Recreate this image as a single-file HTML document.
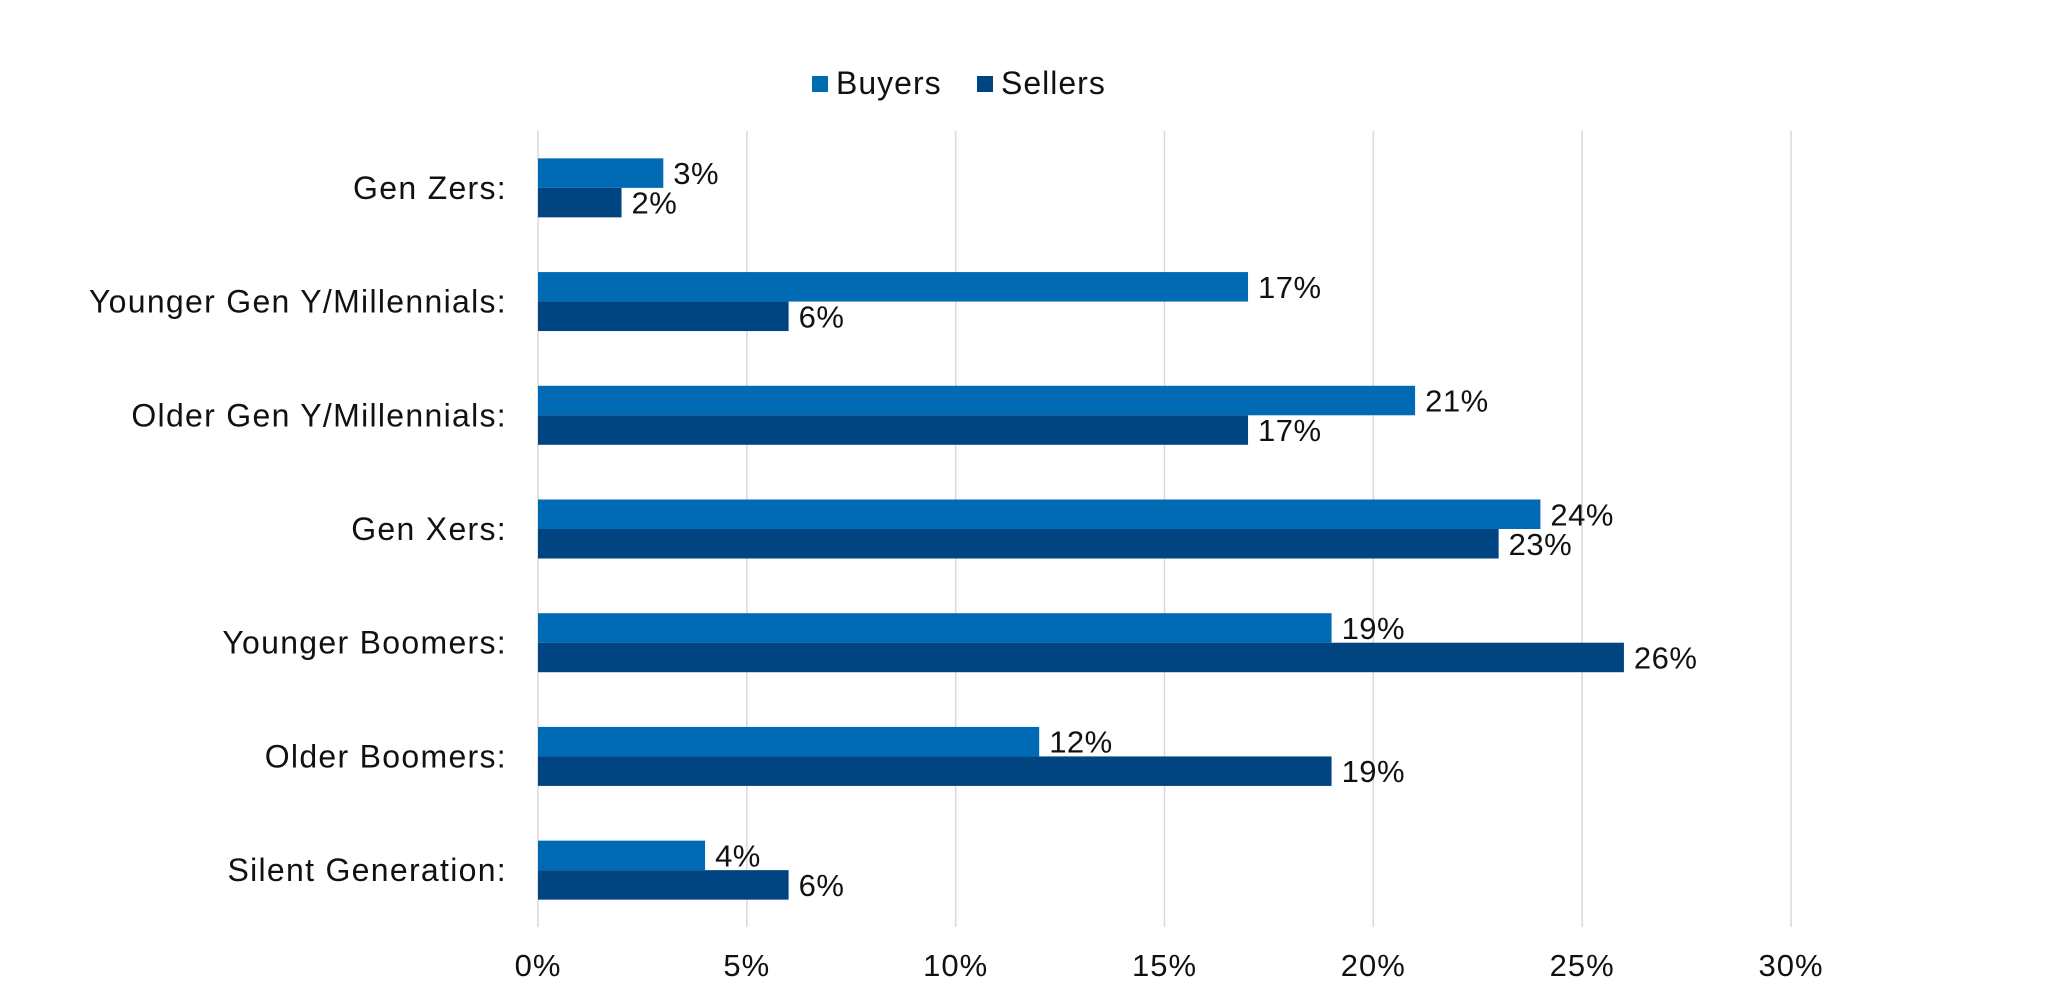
<!DOCTYPE html>
<html><head><meta charset="utf-8"><style>
body{margin:0;background:#fff;}
svg text{font-family:"Liberation Sans",sans-serif;fill:#111;}
</style></head><body>
<svg id="chart" width="2048" height="988" viewBox="0 0 2048 988" xmlns="http://www.w3.org/2000/svg">
<g>
<rect x="812" y="76" width="16" height="16" fill="#006AB4"/>
<text x="836" y="94" font-size="32" letter-spacing="1">Buyers</text>
<rect x="977" y="76" width="16" height="16" fill="#004481"/>
<text x="1001" y="94" font-size="32" letter-spacing="1">Sellers</text>
</g>
<g id="grid"></g><g id="bars"></g><g id="labels"></g>
</svg>
<script>
const categories=["Gen Zers:","Younger Gen Y/Millennials:","Older Gen Y/Millennials:","Gen Xers:","Younger Boomers:","Older Boomers:","Silent Generation:"];
const buyers=[3,17,21,24,19,12,4];
const sellers=[2,6,17,23,26,19,6];
const ticks=[0,5,10,15,20,25,30];
const ns="http://www.w3.org/2000/svg";
const plotX0=538,plotX1=1791,plotTop=131,plotBottom=927;
const xs=v=>plotX0+(v/30)*(plotX1-plotX0);
const band=(plotBottom-plotTop)/categories.length;
const yc=i=>plotTop+band*(i+0.5);
const bh=29.5;
function mk(t,a,p){const e=document.createElementNS(ns,t);for(const k in a)e.setAttribute(k,a[k]);p.appendChild(e);return e;}
const grid=document.getElementById('grid'),bars=document.getElementById('bars'),labels=document.getElementById('labels');
ticks.forEach(t=>{
 const l=mk('line',{x1:xs(t),x2:xs(t),y1:plotTop,y2:plotBottom,stroke:'#d9d9d9','stroke-width':1.5},grid);
 
 
 const tx=mk('text',{x:xs(t),y:976,'font-size':31,'letter-spacing':1,'text-anchor':'middle'},grid);
 tx.textContent=t+'%';
 
 
});
categories.forEach((c,i)=>{
 const y=yc(i);
 const cl=mk('text',{x:507,y:y+11,'font-size':32,'letter-spacing':1.3,'text-anchor':'end'},labels);
 cl.textContent=c;
 
 
 [[buyers,'#006AB4',y-bh,'buyers'],[sellers,'#004481',y,'sellers']].forEach(([arr,col,by,nm])=>{
  const r=mk('rect',{x:plotX0,y:by,width:xs(arr[i])-plotX0,height:bh,fill:col},bars);
  
  
  const v=mk('text',{x:xs(arr[i])+10,y:by+bh/2+11,'font-size':31,'letter-spacing':0.5},labels);
  v.textContent=arr[i]+'%';
  
  
 });
});
</script>
</body></html>
